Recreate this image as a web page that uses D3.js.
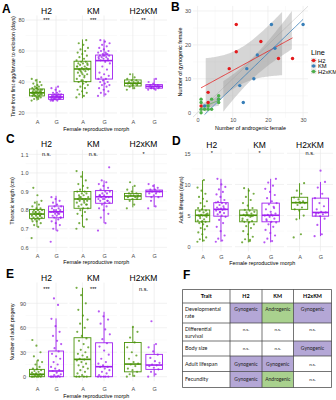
<!DOCTYPE html>
<html>
<head>
<meta charset="utf-8">
<script src="https://cdn.jsdelivr.net/npm/d3@7"></script>
<style>
body { margin: 0; background: #fff; }
svg { display: block; font-family: "Liberation Sans", Arial, sans-serif; }
</style>
</head>
<body>
<svg id="fig" width="336" height="400"></svg>
<script>
// categories
var lines = ["H2", "KM", "H2xKM"];
var morphs = ["A", "G"];

// A: time from first egg/larvae to eclosion (days)
var devH2A = [28,29,29,30,30,31,31,31,32,32,32,32,33,33,33,33,33,34,34,34,34,35,35,35,35,36,36,37,37,38,38,39,40,41,42,30,32,34,36,33];
var devH2G = [28,28,28,29,29,29,29,29,30,30,30,30,30,30,31,31,31,31,31,32,32,32,33,33,34,35,36,37,29,30,31,28,30];
var devKMA = [30,31,32,33,34,35,36,37,38,39,40,40,41,42,43,44,45,45,46,47,47,48,48,48,49,49,50,50,51,51,52,52,53,53,54,55,56,57,58,59,60,61,62,64,65,67,46,50,44,48,52,41];
var devKMG = [31,32,33,34,35,36,37,38,38,39,40,40,41,42,42,43,44,45,46,48,50,52,53,54,54,55,55,56,56,57,57,57,58,58,59,59,60,60,61,62,63,64,65,66,67,55,57,56,58];
var devXA = [35,36,37,38,38,39,39,39,40,40,40,41,41,42,43,45,39,38];
var devXG = [35,35,36,36,36,37,37,37,37,38,38,38,39,40,42,36,37];
// lower whisker, q1, median, q3, upper whisker
var devBox = [[28,31,33,35.5,42],[28,28.8,30.3,32,37],[29.5,40.2,48.4,53.4,67.5],[30.5,41.9,53.8,57.4,67.5],[35.3,37.4,39.2,41.3,45.6],[34.8,36,37.2,38.3,42.4]];
var devSig = ["***", "***", "**"];
var devTicks = [20, 40, 60, 80];

// B: gynogenic vs androgenic females per family
var andH2 = [1,3,3,9,11,11,18,23,27];
var gynH2 = [2,3,6,13,18,26,21,16,16];
var andKM = [2,6,12,13,14,16,17,21,22,30];
var gynKM = [2,4,8,3,13,10,17,26,19,26];
var andX = [1,1,1,1,2,3,4,4,6,6,6,3];
var gynX = [0,1,3,4,1,1,1,4,3,4,5,2];
var countTicks = [0, 10, 20, 30];

// C: thoracic length (cm)
var sizeH2A = [0.65,0.71,0.72,0.73,0.74,0.74,0.75,0.75,0.76,0.76,0.76,0.77,0.77,0.77,0.78,0.78,0.78,0.78,0.79,0.79,0.79,0.80,0.80,0.80,0.81,0.81,0.82,0.83,0.84,0.85,0.88,0.92,0.77,0.79,0.75,0.78];
var sizeH2G = [0.63,0.69,0.70,0.72,0.73,0.74,0.75,0.76,0.76,0.77,0.77,0.78,0.78,0.79,0.79,0.79,0.80,0.80,0.81,0.81,0.82,0.82,0.83,0.84,0.85,0.86,0.87,0.78,0.80,0.76,0.79];
var sizeKMA = [0.70,0.71,0.73,0.75,0.77,0.78,0.79,0.80,0.81,0.81,0.82,0.83,0.83,0.84,0.84,0.85,0.85,0.86,0.86,0.86,0.87,0.87,0.88,0.88,0.89,0.89,0.90,0.90,0.91,0.92,0.93,0.94,0.96,0.98,1.01,0.85,0.87,0.83];
var sizeKMG = [0.69,0.73,0.76,0.78,0.80,0.81,0.82,0.83,0.84,0.84,0.85,0.85,0.86,0.86,0.87,0.87,0.87,0.88,0.88,0.89,0.89,0.90,0.90,0.91,0.92,0.93,0.94,0.95,0.96,1.03,0.86,0.88,0.85];
var sizeXA = [0.81,0.83,0.85,0.86,0.86,0.87,0.87,0.88,0.88,0.88,0.89,0.89,0.90,0.91,0.93,0.95,0.87];
var sizeXG = [0.81,0.82,0.85,0.87,0.88,0.89,0.90,0.90,0.90,0.91,0.91,0.92,0.93,0.94,0.89,0.87];
var sizeBox = [[0.71,0.756,0.779,0.804,0.85],[0.69,0.759,0.791,0.822,0.877],[0.71,0.81,0.86,0.90,1.01],[0.73,0.837,0.872,0.906,0.96],[0.815,0.858,0.876,0.89,0.93],[0.817,0.872,0.90,0.908,0.94]];
var sizeSig = ["n.s.", "n.s.", "*"];
var sizeTicks = [0.6, 0.7, 0.8, 0.9, 1.0, 1.1];

// D: adult lifespan (days)
var lifeH2A = [0.8,1,1.2,1.5,2,2.3,2.8,3,3.3,3.6,3.8,4,4,4.2,4.4,4.6,4.8,5,5,5,5.1,5.3,5.5,5.7,5.8,6,6.2,6.5,7,7.3,7.7,8,8.5,9,9.5,10.7,4.9,5.2,4.1];
var lifeH2G = [0.8,1,1.3,1.8,2.5,3.2,3.8,4.3,4.8,5,5.2,5.4,5.6,5.8,5.9,6,6,6.1,6.3,6.5,6.7,6.9,7,7.2,7.5,8,8.4,8.8,9.2,9.6,10,10.9,6.2,5.5,7.1];
var lifeKMA = [0.7,0.9,1.2,1.6,2,2.5,3,3.3,3.6,3.9,4,4.1,4.3,4.5,4.8,5,5,5,5.1,5.3,5.5,5.6,5.8,5.9,6.2,6.6,7,7.5,8,8.5,9,9.4,4.9,5.2,4.2,1.1];
var lifeKMG = [0.7,0.9,1.3,1.8,2.2,2.7,3.2,3.6,3.9,4,4.2,4.5,4.8,5,5,5.1,5.3,5.6,6,6.4,6.8,7,7.3,7.8,8.3,8.8,9.3,9.8,10.3,10.9,5.2,4.4,6.2];
var lifeXA = [1.5,2,4.4,5,5.8,6,6.3,6.7,7,7,7.1,7.3,7.6,7.9,8.5,9,10.2,7.2];
var lifeXG = [1.7,2,3.5,4.5,4.9,5,5.2,5.4,5.5,5.6,6,6.5,7,7.8,8.5,9.5,10.4,12.2,5.3];
var lifeBox = [[0.8,4,5.05,5.9,10.7],[0.8,4.9,6,7.07,10.9],[0.7,4,5.05,5.9,9.4],[0.7,4,5.05,7,10.9],[4.4,6,7.07,7.94,10.2],[1.7,4.9,5.5,7.8,10.4]];
var lifeSig = ["*", "*", "n.s."];
var lifeTicks = [0, 5, 10, 15];

// E: number of adult progeny
var progH2A = [0,0,0,0,0,0,1,1,2,2,3,3,4,5,6,7,8,9,10,12,15,18,20,25,30,38,45];
var progH2G = [0,0,0,0,0,0,1,2,3,5,7,8,10,12,15,18,22,25,28,31,35,40,44,50,55,62,71,88,96];
var progKMA = [0,0,0,0,2,4,6,8,10,12,14,16,18,20,21,22,24,26,28,30,33,36,40,44,47,50,55,60,65,70,75,82,90,100,109];
var progKMG = [0,0,0,0,0,2,4,6,8,10,12,12,14,16,18,22,27,32,37,41,46,52,58,65,70,74,80];
var progXA = [0,1,3,6,8,10,13,15,16,18,22,26,30,36,42,48,55,61];
var progXG = [0,3,6,9,11,13,14,15,17,19,23,27,31,36,40,68];
var progBox = [[0,0,3,9,20],[0,0,7,31.5,71.5],[0,0,21.3,47.8,109],[0,0,12.3,41.6,79.6],[0,6,15.5,42,61],[0,9,14.3,27.4,40]];
var progSig = ["***", "***", "n.s."];
var progTicks = [0, 30, 60, 90];

// F: summary table
var traitRows = [["Developmental", "rate"], ["Differential", "survival"], ["Body size"], ["Adult lifespan"], ["Fecundity"]];
var resH2 = ["Gynogenic", "n.s.", "n.s.", "Gynogenic", "Gynogenic"];
var resKM = ["Androgenic", "n.s.", "n.s.", "Gynogenic", "Androgenic"];
var resX = ["Gynogenic", "n.s.", "Gynogenic", "n.s.", "n.s."];

var svg = d3.select("#fig");
svg.append("rect").attr("width", 336).attr("height", 400).attr("fill", "#fff");

var green = "#4b930a", purple = "#a020f0";
var morphColor = d3.scaleOrdinal().domain(morphs).range([green, purple]);
var gridMajor = "#ebebeb", gridMinor = "#f4f4f4";
var tickGrey = "#4d4d4d";

// spread points sideways so they do not pile up
function jitter(i) { return ((i * 0.618034) % 1) - 0.5; }

function letter(t, x, y) {
	svg.append("text").attr("x", x).attr("y", y).attr("font-size", 12)
		.attr("font-weight", "bold").text(t);
}

function boxPanel(p) {
	var g = svg.append("g");
	var y = d3.scaleLinear().domain(p.yDomain).range(p.yRange);
	var top = p.yRange[1], bottom = p.yRange[0];
	var minor = d3.pairs(p.ticks).map(function (t) { return (t[0] + t[1]) / 2; });

	lines.forEach(function (line, f) {
		var fr = p.facets[f];
		var x = d3.scalePoint().domain(morphs).range(fr).padding(0.6);
		var step = x.step();
		var panel = g.append("g");

		panel.selectAll(null).data(minor).enter().append("line")
			.attr("x1", fr[0]).attr("x2", fr[1]).attr("y1", y).attr("y2", y)
			.attr("stroke", gridMinor).attr("stroke-width", 0.5);
		panel.selectAll(null).data(p.ticks).enter().append("line")
			.attr("x1", fr[0]).attr("x2", fr[1]).attr("y1", y).attr("y2", y)
			.attr("stroke", gridMajor).attr("stroke-width", 0.7);
		panel.selectAll(null).data(morphs).enter().append("line")
			.attr("x1", x).attr("x2", x).attr("y1", top).attr("y2", bottom)
			.attr("stroke", gridMajor).attr("stroke-width", 0.7);

		morphs.forEach(function (m, k) {
			var cx = x(m);
			var col = morphColor(m);
			panel.append("g").selectAll("circle").data(p.points[f * 2 + k]).enter().append("circle")
				.attr("cx", function (d, i) { return cx + jitter(i) * 0.56 * step; })
				.attr("cy", y).attr("r", 1.1)
				.attr("fill", col).attr("fill-opacity", 0.75);

			var b = p.boxes[f * 2 + k], w = 0.78 * step;
			var bg = panel.append("g").attr("stroke", col).attr("fill", "none");
			bg.append("line").attr("x1", cx).attr("x2", cx).attr("y1", y(b[0])).attr("y2", y(b[1])).attr("stroke-width", 0.9);
			bg.append("line").attr("x1", cx).attr("x2", cx).attr("y1", y(b[3])).attr("y2", y(b[4])).attr("stroke-width", 0.9);
			bg.append("rect").attr("x", cx - w / 2).attr("width", w)
				.attr("y", y(b[3])).attr("height", y(b[1]) - y(b[3]))
				.attr("stroke-width", 0.9);
			bg.append("line").attr("x1", cx - w / 2).attr("x2", cx + w / 2)
				.attr("y1", y(b[2])).attr("y2", y(b[2])).attr("stroke-width", 1.6);
		});

		var xa = panel.append("g").attr("transform", "translate(0," + (p.xLabelY - 3.9) + ")")
			.call(d3.axisBottom(x).tickSize(0).tickPadding(0));
		xa.select(".domain").remove();
		xa.attr("font-size", 5.5).attr("font-family", null);
		xa.selectAll("text").attr("fill", tickGrey);

		var mid = (fr[0] + fr[1]) / 2;
		panel.append("text").attr("x", mid).attr("y", p.stripY).attr("text-anchor", "middle")
			.attr("font-size", 8.5).text(line);
		panel.append("text").attr("x", mid).attr("y", y(p.sigAt)).attr("dy", "0.35em")
			.attr("text-anchor", "middle").attr("font-size", 5.5).text(p.sig[f]);
	});

	var ya = g.append("g").attr("transform", "translate(" + p.yLabelX + ",0)")
		.call(d3.axisLeft(y).tickValues(p.ticks).tickFormat(d3.format(p.fmt)).tickSize(0).tickPadding(0));
	ya.select(".domain").remove();
	ya.attr("font-size", 5.5).attr("font-family", null);
	ya.selectAll("text").attr("fill", tickGrey);

	var cxAll = (p.facets[0][0] + p.facets[2][1]) / 2;
	g.append("text").attr("x", cxAll).attr("y", p.xTitleY).attr("text-anchor", "middle")
		.attr("font-size", 5.4).text("Female reproductive morph");
	g.append("text").attr("transform", "translate(" + p.yTitleX + "," + ((top + bottom) / 2) + ")rotate(-90)")
		.attr("text-anchor", "middle").attr("dy", "0.35em").attr("font-size", 5.2).text(p.yTitle);
}

var leftFacets = [[25.5, 67.5], [69.5, 117], [120, 167]];
var rightFacets = [[191.5, 232], [235, 284], [287, 333]];

boxPanel({
	facets: leftFacets, yDomain: [17, 83], yRange: [117.6, 15.4], ticks: devTicks, fmt: "d",
	points: [devH2A, devH2G, devKMA, devKMG, devXA, devXG], boxes: devBox,
	sig: devSig, sigAt: 80, stripY: 13.5, xLabelY: 124, xTitleY: 130.5,
	yLabelX: 24.5, yTitleX: 13, yTitle: "Time from first egg/larvae to eclosion (days)"
});
boxPanel({
	facets: leftFacets, yDomain: [0.575, 1.125], yRange: [252, 149.7], ticks: sizeTicks, fmt: ".1f",
	points: [sizeH2A, sizeH2G, sizeKMA, sizeKMG, sizeXA, sizeXG], boxes: sizeBox,
	sig: sizeSig, sigAt: 1.1, stripY: 147, xLabelY: 257.5, xTitleY: 264,
	yLabelX: 28.5, yTitleX: 12.5, yTitle: "Thoracic length (cm)"
});
boxPanel({
	facets: rightFacets, yDomain: [-0.75, 15.75], yRange: [251.4, 148.6], ticks: lifeTicks, fmt: "d",
	points: [lifeH2A, lifeH2G, lifeKMA, lifeKMG, lifeXA, lifeXG], boxes: lifeBox,
	sig: lifeSig, sigAt: 15, stripY: 147.5, xLabelY: 258.5, xTitleY: 265,
	yLabelX: 190.5, yTitleX: 181.5, yTitle: "Adult lifespan (days)"
});
boxPanel({
	facets: leftFacets, yDomain: [-5.5, 115.5], yRange: [381.2, 282.5], ticks: progTicks, fmt: "d",
	points: [progH2A, progH2G, progKMA, progKMG, progXA, progXG], boxes: progBox,
	sig: progSig, sigAt: 108, stripY: 280.5, xLabelY: 390.5, xTitleY: 398,
	yLabelX: 26, yTitleX: 12.5, yTitle: "Number of adult progeny"
});

// ---- B: scatter with linear fits
var bx = d3.scaleLinear().domain([-1.3, 31.4]).range([193, 308]);
var by = d3.scaleLinear().domain([-1.5, 31.5]).range([117.8, 5.9]);
var lineColor = d3.scaleOrdinal().domain(lines).range(["#e41a1c", "#377eb8", "#4daf4a"]);
var tCrit = { 7: 2.365, 8: 2.306, 10: 2.228 };

function linFit(xs, ys) {
	var n = xs.length, mx = d3.mean(xs), my = d3.mean(ys);
	var sxx = d3.sum(xs, function (v) { return (v - mx) * (v - mx); });
	var sxy = d3.sum(xs, function (v, i) { return (v - mx) * (ys[i] - my); });
	var b = sxy / sxx, a = my - b * mx;
	var sse = d3.sum(xs, function (v, i) { var r = ys[i] - a - b * v; return r * r; });
	var s = Math.sqrt(sse / (n - 2)), t = tCrit[n - 2];
	var ext = d3.extent(xs);
	return d3.range(80).map(function (k) {
		var xv = ext[0] + (ext[1] - ext[0]) * k / 79;
		var fit = a + b * xv;
		var se = s * Math.sqrt(1 / n + (xv - mx) * (xv - mx) / sxx);
		return { x: xv, y: fit, lo: fit - t * se, hi: fit + t * se };
	});
}

var bSeries = [
	{ line: "H2", xs: andH2, ys: gynH2 },
	{ line: "KM", xs: andKM, ys: gynKM },
	{ line: "H2xKM", xs: andX, ys: gynX }
];

var gb = svg.append("g");
svg.append("clipPath").attr("id", "clipB").append("rect")
	.attr("x", 193).attr("y", 5.9).attr("width", 115).attr("height", 111.9);

var bMinor = [5, 15, 25];
gb.selectAll(null).data(bMinor).enter().append("line")
	.attr("x1", 193).attr("x2", 308).attr("y1", by).attr("y2", by)
	.attr("stroke", gridMinor).attr("stroke-width", 0.5);
gb.selectAll(null).data(bMinor).enter().append("line")
	.attr("x1", bx).attr("x2", bx).attr("y1", 5.9).attr("y2", 117.8)
	.attr("stroke", gridMinor).attr("stroke-width", 0.5);
gb.selectAll(null).data(countTicks).enter().append("line")
	.attr("x1", 193).attr("x2", 308).attr("y1", by).attr("y2", by)
	.attr("stroke", gridMajor).attr("stroke-width", 0.7);
gb.selectAll(null).data(countTicks).enter().append("line")
	.attr("x1", bx).attr("x2", bx).attr("y1", 5.9).attr("y2", 117.8)
	.attr("stroke", gridMajor).attr("stroke-width", 0.7);

var plotB = gb.append("g").attr("clip-path", "url(#clipB)");
// 1:1 reference line
plotB.append("line").attr("x1", bx(-2)).attr("y1", by(-2)).attr("x2", bx(33)).attr("y2", by(33))
	.attr("stroke", "#c4c4c4").attr("stroke-width", 0.6);

var band = d3.area()
	.defined(function (d) { return d.lo >= 0 && d.hi <= 30; })
	.x(function (d) { return bx(d.x); })
	.y0(function (d) { return by(d.lo); })
	.y1(function (d) { return by(d.hi); });
var fitLine = d3.line().x(function (d) { return bx(d.x); }).y(function (d) { return by(d.y); });

bSeries.forEach(function (s) { s.fit = linFit(s.xs, s.ys); });
bSeries.forEach(function (s) {
	plotB.append("path").attr("d", band(s.fit)).attr("fill", "#999999").attr("fill-opacity", 0.4);
});
bSeries.forEach(function (s) {
	plotB.append("path").attr("d", fitLine(s.fit)).attr("fill", "none")
		.attr("stroke", lineColor(s.line)).attr("stroke-width", 0.8);
});
bSeries.forEach(function (s) {
	plotB.append("g").selectAll("circle").data(s.xs).enter().append("circle")
		.attr("cx", function (d) { return bx(d); })
		.attr("cy", function (d, i) { return by(s.ys[i]); })
		.attr("r", 1.7).attr("fill", lineColor(s.line));
});

var bxa = gb.append("g").attr("transform", "translate(0," + (121.5 - 3.9) + ")")
	.call(d3.axisBottom(bx).tickValues(countTicks).tickSize(0).tickPadding(0));
bxa.select(".domain").remove();
bxa.attr("font-size", 5.5).attr("font-family", null);
bxa.selectAll("text").attr("fill", tickGrey);
var bya = gb.append("g").attr("transform", "translate(191,0)")
	.call(d3.axisLeft(by).tickValues(countTicks).tickSize(0).tickPadding(0));
bya.select(".domain").remove();
bya.attr("font-size", 5.5).attr("font-family", null);
bya.selectAll("text").attr("fill", tickGrey);

gb.append("text").attr("x", 250.5).attr("y", 129.5).attr("text-anchor", "middle")
	.attr("font-size", 5.4).text("Number of androgenic female");
gb.append("text").attr("transform", "translate(180.5,62)rotate(-90)").attr("dy", "0.35em")
	.attr("text-anchor", "middle").attr("font-size", 5.4).text("Number of gynogenic female");

// legend
var lg = svg.append("g");
lg.append("text").attr("x", 311).attr("y", 55).attr("font-size", 7.3).text("Line");
lines.forEach(function (l, i) {
	var cy = 60.5 + i * 5.5;
	lg.append("rect").attr("x", 311).attr("y", cy - 2.6).attr("width", 5.2).attr("height", 5.2)
		.attr("fill", "#999999").attr("fill-opacity", 0.25);
	lg.append("line").attr("x1", 311).attr("x2", 316.2).attr("y1", cy).attr("y2", cy)
		.attr("stroke", lineColor(l)).attr("stroke-width", 0.6);
	lg.append("circle").attr("cx", 313.6).attr("cy", cy).attr("r", 1.7).attr("fill", lineColor(l));
	lg.append("text").attr("x", 318).attr("y", cy).attr("dy", "0.35em").attr("font-size", 5.8).text(l);
});

// ---- F: summary table
var colEdges = [182.5, 230, 262, 293.5, 331.5];
var rowEdges = [289.5, 303, 323, 341, 356, 371.5, 387.5];
var cellFill = { "Gynogenic": "#b4a7d6", "Androgenic": "#a9d18e", "n.s.": "#ffffff" };
var gt = svg.append("g").attr("font-family", "Lato, 'Open Sans', sans-serif");
var results = [resH2, resKM, resX];

traitRows.forEach(function (tr, r) {
	var y0 = rowEdges[r + 1], y1 = rowEdges[r + 2];
	results.forEach(function (res, c) {
		var x0 = colEdges[c + 1], x1 = colEdges[c + 2];
		gt.append("rect").attr("x", x0).attr("y", y0).attr("width", x1 - x0).attr("height", y1 - y0)
			.attr("fill", cellFill[res[r]]);
		var ty = tr.length > 1 ? y0 + 7.5 : (y0 + y1) / 2 + 1.8;
		gt.append("text").attr("x", (x0 + x1) / 2).attr("y", ty).attr("text-anchor", "middle")
			.attr("font-size", res[r] == "n.s." ? 4.6 : 5).attr("fill", "#222").text(res[r]);
	});
	tr.forEach(function (part, j) {
		var ty = tr.length > 1 ? y0 + 7.5 + j * 7 : (y0 + y1) / 2 + 1.9;
		gt.append("text").attr("x", 185).attr("y", ty).attr("font-size", 5.4).attr("fill", "#222").text(part);
	});
});

var heads = ["Trait"].concat(lines);
heads.forEach(function (h, c) {
	gt.append("text").attr("x", (colEdges[c] + colEdges[c + 1]) / 2).attr("y", 298.2)
		.attr("text-anchor", "middle").attr("font-size", 5.4).attr("font-weight", "bold").text(h);
});
gt.selectAll(null).data(rowEdges).enter().append("line")
	.attr("x1", colEdges[0]).attr("x2", colEdges[4]).attr("y1", function (d) { return d; }).attr("y2", function (d) { return d; })
	.attr("stroke", "#3a3a3a").attr("stroke-width", 0.7);
gt.selectAll(null).data(colEdges).enter().append("line")
	.attr("y1", rowEdges[0]).attr("y2", rowEdges[6]).attr("x1", function (d) { return d; }).attr("x2", function (d) { return d; })
	.attr("stroke", "#3a3a3a").attr("stroke-width", 0.7);

letter("A", 2, 13);
letter("B", 171, 11);
letter("C", 6, 143);
letter("D", 172, 145);
letter("E", 6, 278);
letter("F", 183, 279);
</script>
</body>
</html>
